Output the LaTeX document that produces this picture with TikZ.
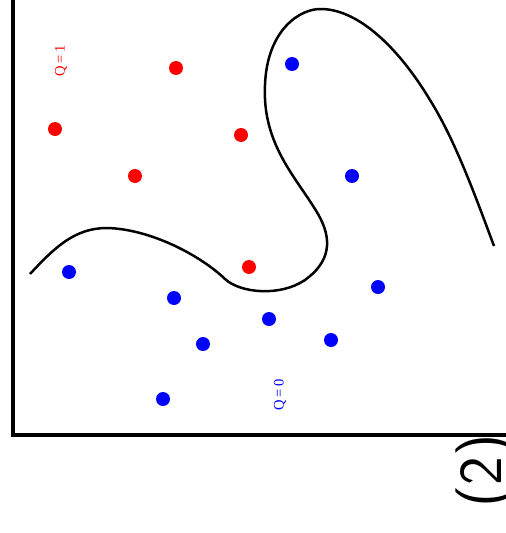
\documentclass[tikz,border=0pt]{standalone}
\usepackage{fontspec}
\usepackage{tikz}
\setmainfont{Liberation Serif}
\definecolor{qone}{HTML}{FF0000}
\definecolor{qzero}{HTML}{0000FF}

\begin{document}
\begin{tikzpicture}[
    x=1pt, y=-1pt,
    onept/.style={circle, fill=qone, inner sep=0pt, minimum size=14pt},
    zeropt/.style={circle, fill=qzero, inner sep=0pt, minimum size=14pt},
    qlabel/.style={rotate=90, font=\fontsize{14.5}{14.5}\selectfont, inner sep=0pt}
]
\useasboundingbox (0,0) rectangle (506,533);
% axes
\coordinate (top) at (13,-5);
\coordinate (corner) at (13,435);
\coordinate (right) at (512,435);
\draw[line width=3.3pt] (top) -- (corner) -- (right);
% Q=1 points
\foreach \n/\x/\y in {1/176/68, 2/55/129, 3/241/135, 4/135/176, 5/249/267}
    \node[onept] (r\n) at (\x,\y) {};
% Q=0 points
\foreach \n/\x/\y in {1/292/64, 2/352/176, 3/69/272, 4/174/298, 5/378/287, 6/269/319, 7/203/344, 8/331/340, 9/163/399}
    \node[zeropt] (b\n) at (\x,\y) {};
\node[qlabel, text=qone] (q1) at (61,61) {Q\,=\,1};
\node[qlabel, text=qzero] (q0) at (280,395) {Q\,=\,0};
% boundary
\draw[line width=2.5pt] (30,274) .. controls (55,247) and (75,228) .. (107,228)
    .. controls (150,229) and (200,255) .. (225,279)
    .. controls (240,293) and (280,297) .. (305,280)
    .. controls (330,262) and (333,240) .. (318,214)
    .. controls (297,178) and (262,145) .. (265,85)
    .. controls (267,30) and (300,8) .. (322,9)
    .. controls (360,10) and (400,50) .. (430,100)
    .. controls (455,140) and (475,195) .. (494,246);
% panel number
\node[rotate=90, font=\sffamily\fontsize{61}{61}\selectfont, inner sep=0pt] (num) at (486,471) {(2)};
\end{tikzpicture}
\end{document}
